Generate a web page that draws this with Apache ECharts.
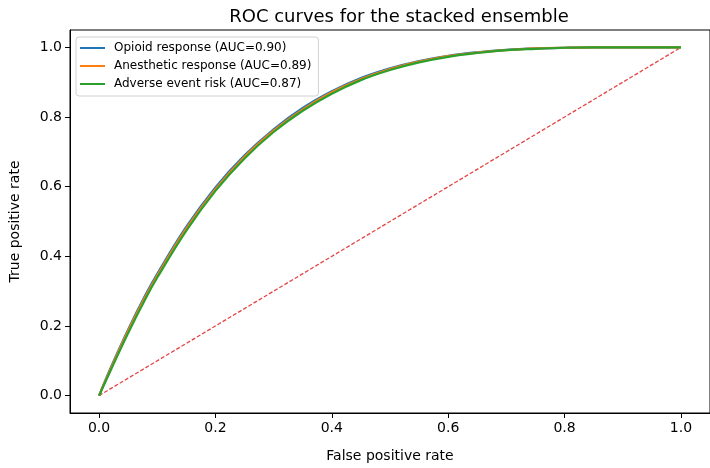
<!DOCTYPE html>
<html>
<head>
<meta charset="utf-8">
<script src="https://cdn.jsdelivr.net/npm/echarts@6/dist/echarts.min.js"></script>
<style>
  html, body { margin: 0; padding: 0; background: #fff; }
  #chart { width: 710px; height: 468px; }
</style>
</head>
<body>
<div id="chart"></div>
<script>
// 假阳性率（横轴取样点）
const fpr = [0, 0.02, 0.05, 0.08, 0.1, 0.15, 0.2, 0.25, 0.3, 0.35, 0.4, 0.45, 0.5, 0.55, 0.6, 0.65, 0.7, 0.75, 0.8, 0.85, 0.9, 1.0];
// 三条曲线的真阳性率
const tprOpioid = [0, 0.08, 0.19, 0.29, 0.35, 0.485, 0.598, 0.69, 0.765, 0.826, 0.874, 0.912, 0.94, 0.961, 0.976, 0.986, 0.993, 0.997, 0.999, 1, 1, 1];
const tprAnesthetic = [0, 0.077, 0.186, 0.285, 0.345, 0.48, 0.593, 0.686, 0.761, 0.822, 0.871, 0.909, 0.938, 0.959, 0.975, 0.985, 0.992, 0.997, 0.999, 1, 1, 1];
const tprAdverse = [0, 0.073, 0.18, 0.279, 0.339, 0.474, 0.588, 0.681, 0.757, 0.818, 0.867, 0.906, 0.935, 0.957, 0.973, 0.984, 0.992, 0.996, 0.999, 1, 1, 1];
const seriesNames = ['Opioid response (AUC=0.90)', 'Anesthetic response (AUC=0.89)', 'Adverse event risk (AUC=0.87)'];
const diagonal = [[0, 0], [1, 1]];
const tickValues = [0, 0.2, 0.4, 0.6, 0.8, 1.0];

const font = 'DejaVu Sans';
const colors = ['#1f77b4', '#ff7f0e', '#2ca02c'];

function pairs(ys) {
    return fpr.map((x, i) => [x, ys[i]]);
}

function curve(name, ys, color, z) {
    return {
        name: name,
        type: 'line',
        data: pairs(ys),
        showSymbol: false,
        smooth: 0.4,
        z: z,
        lineStyle: { color: color, width: 2.2 },
        itemStyle: { color: color }
    };
}

function axisCommon(name, gap) {
    return {
        type: 'value',
        min: -0.05,
        max: 1.05,
        name: name,
        nameLocation: 'middle',
        nameGap: gap,
        nameTextStyle: { fontFamily: font, fontSize: 14, color: '#000' },
        axisLine: { show: true, onZero: false, lineStyle: { color: '#000', width: 1 } },
        axisTick: { show: true, inside: false, length: 5, customValues: tickValues, lineStyle: { color: '#000' } },
        axisLabel: {
            customValues: tickValues,
            fontFamily: font, fontSize: 14, color: '#000', margin: 8,
            formatter: v => v.toFixed(1)
        },
        splitLine: { show: false }
    };
}

const chart = echarts.init(document.getElementById('chart'));
chart.setOption({
    animation: false,
    backgroundColor: '#fff',
    title: {
        text: 'ROC curves for the stacked ensemble',
        left: 394,
        textAlign: 'center',
        top: 3,
        textStyle: { fontFamily: font, fontSize: 18, fontWeight: 'normal', color: '#000' }
    },
    grid: {
        left: 70, right: -8, top: 30, bottom: 51,
        show: true, borderColor: '#000', borderWidth: 1, backgroundColor: 'transparent'
    },
    legend: {
        data: seriesNames,
        orient: 'vertical',
        left: 76,
        top: 37,
        icon: 'rect',
        itemWidth: 25,
        itemHeight: 2,
        itemGap: 4,
        padding: [4, 7, 5, 4],
        borderColor: '#d0d0d0',
        borderWidth: 1,
        borderRadius: 3,
        backgroundColor: 'rgba(255,255,255,0.8)',
        textStyle: { fontFamily: font, fontSize: 12, color: '#000', lineHeight: 14, padding: [0, 0, 0, 4] }
    },
    xAxis: axisCommon('False positive rate', 36),
    yAxis: axisCommon('True positive rate', 48),
    series: [
        {
            type: 'line',
            data: diagonal,
            showSymbol: false,
            z: 1,
            silent: true,
            lineStyle: { color: '#e03030', width: 1.3, type: [4, 2], opacity: 0.9 }
        },
        curve(seriesNames[0], tprOpioid, colors[0], 2),
        curve(seriesNames[1], tprAnesthetic, colors[1], 3),
        curve(seriesNames[2], tprAdverse, colors[2], 4)
    ]
});
</script>
</body>
</html>
